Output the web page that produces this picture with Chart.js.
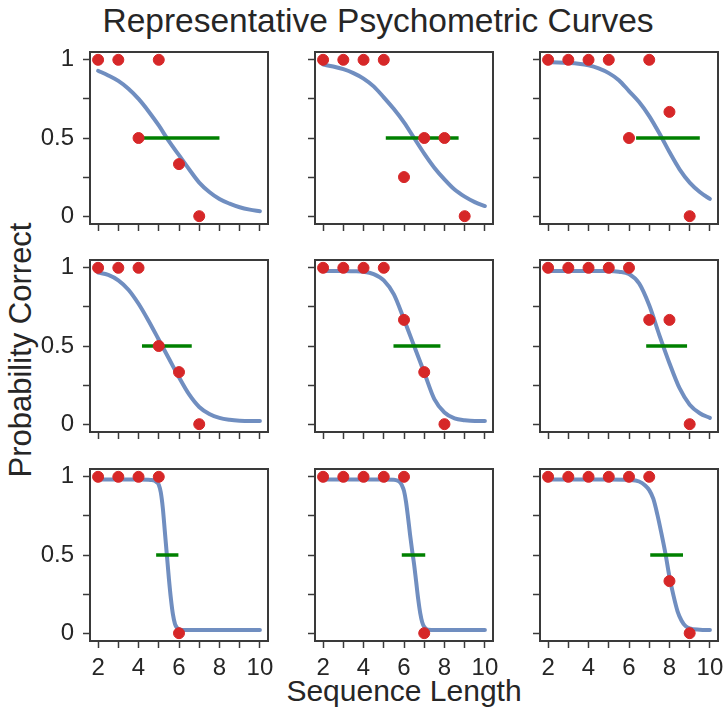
<!DOCTYPE html>
<html>
<head>
<meta charset="utf-8">
<script src="https://cdn.jsdelivr.net/npm/chart.js@4.4.1/dist/chart.umd.min.js"></script>
<style>
    body { margin: 0; background: #ffffff; }
    #figure { position: relative; width: 723px; height: 713px; overflow: hidden; font-family: "Liberation Sans", Arial, sans-serif; color: #262626; }
    canvas { position: absolute; }
    .label { position: absolute; white-space: nowrap; line-height: 1; }
</style>
</head>
<body>
<div id="figure">
    <div class="label" id="figTitle" style="font-size: 33.5px; left: 378px; top: 4px; transform: translateX(-50%);">Representative Psychometric Curves</div>
    <div class="label" id="yTitle" style="font-size: 31px; left: 20px; top: 350px; transform: translate(-50%, -50%) rotate(-90deg);">Probability Correct</div>
    <div class="label" id="xTitle" style="font-size: 30px; left: 404px; top: 676px; transform: translateX(-50%);">Sequence Length</div>
</div>
<script>
const seqTicks = [2, 3, 4, 5, 6, 7, 8, 9, 10];
const probTicks = [0, 0.25, 0.5, 0.75, 1];

// observed proportion correct, one list per panel (row by row)
const pointX = [
    [2, 3, 4, 5, 6, 7],
    [2, 3, 4, 5, 6, 7, 8, 9],
    [2, 3, 4, 5, 6, 7, 8, 9],
    [2, 3, 4, 5, 6, 7],
    [2, 3, 4, 5, 6, 7, 8],
    [2, 3, 4, 5, 6, 7, 8, 9],
    [2, 3, 4, 5, 6],
    [2, 3, 4, 5, 6, 7],
    [2, 3, 4, 5, 6, 7, 8, 9]
];
const pointY = [
    [1, 1, 0.5, 1, 0.333, 0],
    [1, 1, 1, 1, 0.25, 0.5, 0.5, 0],
    [1, 1, 1, 1, 0.5, 1, 0.667, 0],
    [1, 1, 1, 0.5, 0.333, 0],
    [1, 1, 1, 1, 0.667, 0.333, 0],
    [1, 1, 1, 1, 1, 0.667, 0.667, 0],
    [1, 1, 1, 1, 0],
    [1, 1, 1, 1, 1, 0],
    [1, 1, 1, 1, 1, 1, 0.333, 0]
];

// fitted curves
const curveX = [
    [2, 2.5, 3, 3.5, 4, 4.5, 5, 5.5, 6, 6.5, 7, 7.5, 8, 8.5, 9, 9.5, 10],
    [2, 2.5, 3, 3.5, 4, 4.5, 5, 5.5, 6, 6.5, 7, 7.5, 8, 8.5, 9, 9.5, 10],
    [2, 2.5, 3, 3.5, 4, 4.5, 5, 5.5, 6, 6.5, 7, 7.5, 8, 8.5, 9, 9.5, 10],
    [2, 2.5, 3, 3.5, 4, 4.5, 5, 5.5, 6, 6.5, 7, 7.5, 8, 8.5, 9, 9.5, 10],
    [2, 2.5, 3, 3.5, 4, 4.5, 5, 5.5, 6, 6.5, 7, 7.5, 8, 8.5, 9, 9.5, 10],
    [2, 2.5, 3, 3.5, 4, 4.5, 5, 5.5, 6, 6.5, 7, 7.5, 8, 8.5, 9, 9.5, 10],
    [2, 3, 4, 4.6, 4.8, 4.9, 5, 5.1, 5.2, 5.3, 5.4, 5.5, 5.6, 5.7, 5.8, 5.9, 6, 6.2, 7, 8, 9, 10],
    [2, 3, 4, 5, 5.5, 5.7, 5.8, 5.9, 6, 6.1, 6.2, 6.3, 6.4, 6.5, 6.6, 6.7, 6.8, 6.9, 7, 7.2, 8, 9, 10],
    [2, 3, 4, 5, 6, 6.5, 6.8, 7, 7.2, 7.4, 7.6, 7.8, 8, 8.2, 8.4, 8.6, 8.8, 9, 9.5, 10]
];
const curveY = [
    [0.93, 0.9, 0.865, 0.815, 0.75, 0.67, 0.58, 0.48, 0.39, 0.3, 0.215, 0.155, 0.11, 0.08, 0.057, 0.042, 0.032],
    [0.97, 0.957, 0.94, 0.915, 0.88, 0.83, 0.76, 0.685, 0.6, 0.5, 0.4, 0.31, 0.235, 0.17, 0.125, 0.09, 0.065],
    [0.985, 0.983, 0.98, 0.975, 0.965, 0.945, 0.915, 0.87, 0.8, 0.73, 0.64, 0.53, 0.41, 0.3, 0.215, 0.155, 0.11],
    [0.97, 0.955, 0.92, 0.86, 0.77, 0.66, 0.54, 0.42, 0.3, 0.19, 0.11, 0.065, 0.04, 0.028, 0.022, 0.02, 0.02],
    [0.98, 0.98, 0.98, 0.978, 0.975, 0.96, 0.92, 0.83, 0.67, 0.5, 0.33, 0.16, 0.075, 0.037, 0.025, 0.02, 0.02],
    [0.98, 0.98, 0.98, 0.98, 0.98, 0.98, 0.98, 0.975, 0.96, 0.9, 0.76, 0.57, 0.39, 0.23, 0.125, 0.07, 0.04],
    [0.983, 0.983, 0.983, 0.98, 0.975, 0.965, 0.95, 0.9, 0.8, 0.65, 0.5, 0.35, 0.22, 0.12, 0.06, 0.035, 0.025, 0.02, 0.02, 0.02, 0.02, 0.02],
    [0.983, 0.983, 0.983, 0.983, 0.982, 0.975, 0.965, 0.945, 0.91, 0.84, 0.74, 0.63, 0.53, 0.44, 0.33, 0.22, 0.13, 0.07, 0.04, 0.022, 0.02, 0.02, 0.02],
    [0.983, 0.983, 0.983, 0.983, 0.98, 0.97, 0.945, 0.915, 0.86, 0.76, 0.64, 0.51, 0.36, 0.24, 0.14, 0.08, 0.045, 0.03, 0.022, 0.02]
];

// threshold interval drawn at p = 0.5
const thresholdLow = [4, 5.1, 6.35, 4.17, 5.48, 6.85, 4.87, 5.89, 7.05];
const thresholdHigh = [8, 8.7, 9.5, 6.63, 7.8, 8.87, 5.97, 7.05, 8.67];

const colLeft = [90, 315, 540];
const rowTop = [52, 260, 469];
const areaW = 178;
const areaH = 172;
const padL = 62, padR = 28, padT = 30, padB = 48;

const axisColor = '#3a3a3a';
const textColor = '#262626';
const tickFont = {family: '"Liberation Sans", Arial, sans-serif', size: 24};

const toPoints = (xs, ys) => xs.map((x, i) => ({x: x, y: ys[i]}));

const framePlugin = {
    id: 'frame',
    afterDraw: (chart) =>
    {
        const a = chart.chartArea;
        const ctx = chart.ctx;
        ctx.save();
        ctx.strokeStyle = axisColor;
        ctx.lineWidth = 2;
        ctx.strokeRect(a.left, a.top, a.right - a.left, a.bottom - a.top);
        ctx.restore();
    }
};

const makePanel = (index) =>
{
    const row = Math.floor(index / 3);
    const col = index % 3;
    const canvas = document.createElement('canvas');
    canvas.width = padL + areaW + padR;
    canvas.height = padT + areaH + padB;
    canvas.style.left = (colLeft[col] - padL) + 'px';
    canvas.style.top = (rowTop[row] - padT) + 'px';
    document.getElementById('figure').appendChild(canvas);

    new Chart(canvas, {
        type: 'line',
        data: {
            datasets: [
                {
                    data: toPoints(pointX[index], pointY[index]),
                    showLine: false,
                    pointRadius: 5.5,
                    pointBackgroundColor: '#d62728',
                    pointBorderColor: '#d62728',
                    pointBorderWidth: 1,
                    order: 0
                },
                {
                    data: [{x: thresholdLow[index], y: 0.5}, {x: thresholdHigh[index], y: 0.5}],
                    borderColor: '#008000',
                    borderWidth: 3.5,
                    pointRadius: 0,
                    order: 1
                },
                {
                    data: toPoints(curveX[index], curveY[index]),
                    borderColor: '#708ec0',
                    borderWidth: 4,
                    pointRadius: 0,
                    cubicInterpolationMode: 'monotone',
                    borderCapStyle: 'round',
                    order: 2
                }
            ]
        },
        options: {
            responsive: false,
            animation: false,
            devicePixelRatio: 1,
            layout: {padding: {top: padT, right: padR, left: 0, bottom: 0}},
            plugins: {legend: {display: false}, tooltip: {enabled: false}},
            scales: {
                x: {
                    type: 'linear',
                    min: 1.6,
                    max: 10.4,
                    afterBuildTicks: (scale) => { scale.ticks = seqTicks.map(v => ({value: v})); },
                    afterFit: (scale) => { scale.height = padB; },
                    border: {display: false},
                    grid: {drawOnChartArea: false, drawTicks: true, tickLength: 7, tickWidth: 1.5, tickColor: axisColor},
                    ticks: {
                        autoSkip: false,
                        maxRotation: 0,
                        padding: 6,
                        color: textColor,
                        font: tickFont,
                        callback: (v) => (row === 2 && v % 2 === 0) ? String(v) : ''
                    }
                },
                y: {
                    min: -0.05,
                    max: 1.05,
                    afterBuildTicks: (scale) => { scale.ticks = probTicks.map(v => ({value: v})); },
                    afterFit: (scale) => { scale.width = padL; },
                    border: {display: false},
                    grid: {drawOnChartArea: false, drawTicks: true, tickLength: 7, tickWidth: 1.5, tickColor: axisColor},
                    ticks: {
                        autoSkip: false,
                        padding: 9,
                        color: textColor,
                        font: tickFont,
                        callback: (v) => (col === 0 && (v === 0 || v === 0.5 || v === 1)) ? String(v) : ''
                    }
                }
            }
        },
        plugins: [framePlugin]
    });
};

for (let i = 0; i < 9; i++)
{
    makePanel(i);
}
</script>
</body>
</html>
